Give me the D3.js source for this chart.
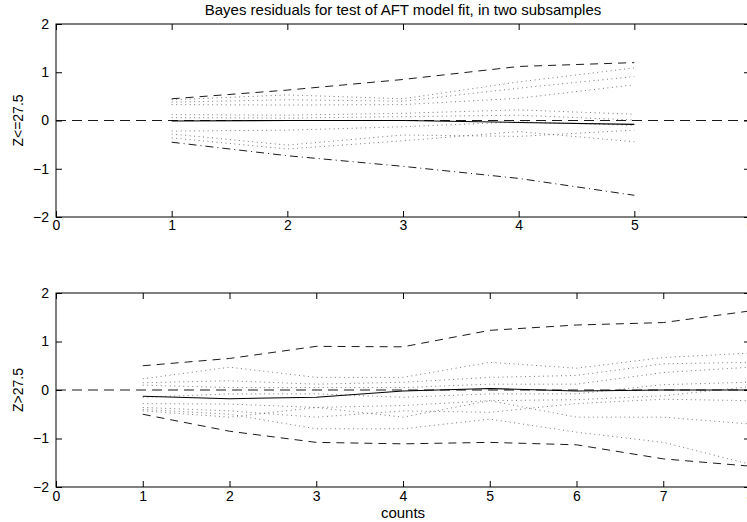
<!DOCTYPE html>
<html>
<head>
<meta charset="utf-8">
<style>
    body { margin: 0; background: #fff; }
    svg { font-family: 'Liberation Sans', Arial, Helvetica, sans-serif; }
    .tick text { font-size: 14px; fill: #000; }
    .tick line { stroke: #000; }
    .domain { display: none; }
    .title { font-size: 15px; fill: #000; }
    .axis-label { font-size: 14px; fill: #000; }
    .x-label { font-size: 15px; fill: #000; }
</style>
</head>
<body>
<svg width="747" height="522"></svg>
<script src="https://d3js.org/d3.v7.min.js"></script>
<script>
// ---- data ----
const title = "Bayes residuals for test of AFT model fit, in two subsamples"
const xLabel = "counts"

// top panel: Z<=27.5
const topLabel = "Z<=27.5"
const topX = [1, 2, 3, 4, 5]
const topXTicks = [0, 1, 2, 3, 4, 5, 6]
const topMean = [-0.01, 0.0, 0.0, -0.04, -0.08]
const topUpper = [0.45, 0.63, 0.85, 1.12, 1.2]
const topLower = [-0.45, -0.73, -0.95, -1.2, -1.55]
const topDraws = [
    [0.43, 0.53, 0.45, 0.80, 1.09],
    [0.38, 0.43, 0.40, 0.67, 0.91],
    [0.33, 0.32, 0.33, 0.46, 0.74],
    [0.12, 0.11, 0.15, 0.22, 0.13],
    [0.06, 0.05, 0.08, 0.11, 0.01],
    [-0.22, -0.20, -0.13, -0.03, -0.10],
    [-0.28, -0.51, -0.30, -0.33, -0.20],
    [-0.36, -0.59, -0.42, -0.23, -0.44]
]

// bottom panel: Z>27.5
const botLabel = "Z>27.5"
const botX = [1, 2, 3, 4, 5, 6, 7, 8]
const botXTicks = [0, 1, 2, 3, 4, 5, 6, 7, 8]
const botMean = [-0.13, -0.18, -0.15, -0.02, 0.03, -0.02, 0.0, 0.0]
const botUpper = [0.5, 0.65, 0.9, 0.89, 1.23, 1.34, 1.39, 1.63]
const botLower = [-0.5, -0.85, -1.08, -1.11, -1.08, -1.13, -1.42, -1.57]
const botDraws = [
    [0.23, 0.47, 0.26, 0.26, 0.57, 0.45, 0.67, 0.76],
    [0.15, 0.19, 0.12, 0.16, 0.26, 0.30, 0.54, 0.57],
    [0.10, 0.05, 0.05, 0.05, 0.12, 0.12, 0.36, 0.47],
    [-0.15, -0.08, -0.08, -0.15, -0.08, -0.08, 0.11, 0.16],
    [-0.28, -0.29, -0.36, -0.32, -0.22, -0.20, -0.12, 0.07],
    [-0.36, -0.43, -0.56, -0.43, -0.46, -0.28, -0.19, -0.22],
    [-0.43, -0.56, -0.36, -0.56, -0.22, -0.56, -0.56, -0.70],
    [-0.40, -0.50, -0.80, -0.80, -0.60, -0.87, -1.08, -1.53]
]

const yTicks = [-2, -1, 0, 1, 2]

let svg = d3.select("svg")

function panel(opts) {
    let x = d3.scaleLinear().domain(opts.xDomain).range([56, 750])
    let y = d3.scaleLinear().domain([-2, 2]).range([opts.bottom, opts.top])
    let g = svg.append("g")

    let line = d3.line()
        .x((d, i) => x(opts.xs[i]))
        .y(d => y(d))

    // zero reference, dashed, across whole axis
    g.append("path")
        .attr("d", d3.line()([[x(opts.xDomain[0]), y(0)], [x(opts.xDomain[1]), y(0)]]))
        .attr("stroke", "#000").attr("stroke-width", 0.9)
        .attr("stroke-dasharray", "10,6").attr("fill", "none")

    // simulated residual paths, dotted
    g.selectAll(".draw")
        .data(opts.draws)
        .join("path")
        .attr("class", "draw")
        .attr("d", line)
        .attr("fill", "none")
        .attr("stroke", "#555")
        .attr("stroke-width", 0.8)
        .attr("stroke-dasharray", "1,3.5")

    g.append("path")
        .attr("d", line(opts.upper))
        .attr("fill", "none").attr("stroke", "#000").attr("stroke-width", 0.9)
        .attr("stroke-dasharray", "8,6")

    g.append("path")
        .attr("d", line(opts.lower))
        .attr("fill", "none").attr("stroke", "#000").attr("stroke-width", 0.9)
        .attr("stroke-dasharray", opts.lowerDash)

    g.append("path")
        .attr("d", line(opts.mean))
        .attr("fill", "none").attr("stroke", "#000").attr("stroke-width", 1.1)

    // axes with inward ticks on all sides
    g.append("g")
        .attr("transform", `translate(0,${opts.bottom})`)
        .call(d3.axisBottom(x).tickValues(opts.xTicks).tickSize(-6).tickPadding(opts.xPad).tickFormat(d3.format("d")))
    g.append("g")
        .attr("transform", `translate(0,${opts.top})`)
        .call(d3.axisTop(x).tickValues(opts.xTicks).tickSize(-6).tickFormat(""))
    g.append("g")
        .attr("transform", `translate(56,0)`)
        .call(d3.axisLeft(y).tickValues(yTicks).tickSize(-6).tickPadding(7).tickFormat(d3.format("d")))
    g.append("g")
        .attr("transform", `translate(750,0)`)
        .call(d3.axisRight(y).tickValues(yTicks).tickSize(-6).tickFormat(""))

    g.append("rect")
        .attr("x", 56).attr("y", opts.top)
        .attr("width", 750 - 56).attr("height", opts.bottom - opts.top)
        .attr("fill", "none").attr("stroke", "#000").attr("stroke-width", 1)

    g.append("text")
        .attr("class", "axis-label")
        .attr("transform", `translate(23,${y(0)}) rotate(-90)`)
        .attr("text-anchor", "middle")
        .text(opts.label)
}

panel({
    xDomain: [0, 6], xs: topX, xTicks: topXTicks, top: 24, bottom: 217, xPad: 3,
    mean: topMean, upper: topUpper, lower: topLower, draws: topDraws,
    lowerDash: "8,4,1,4", label: topLabel
})

panel({
    xDomain: [0, 8], xs: botX, xTicks: botXTicks, top: 293, bottom: 487, xPad: 4,
    mean: botMean, upper: botUpper, lower: botLower, draws: botDraws,
    lowerDash: "8,6", label: botLabel
})

svg.append("text")
    .attr("class", "title")
    .attr("x", 403).attr("y", 15)
    .attr("text-anchor", "middle")
    .text(title)

svg.append("text")
    .attr("class", "x-label")
    .attr("x", 403).attr("y", 518)
    .attr("text-anchor", "middle")
    .text(xLabel)
</script>
</body>
</html>
